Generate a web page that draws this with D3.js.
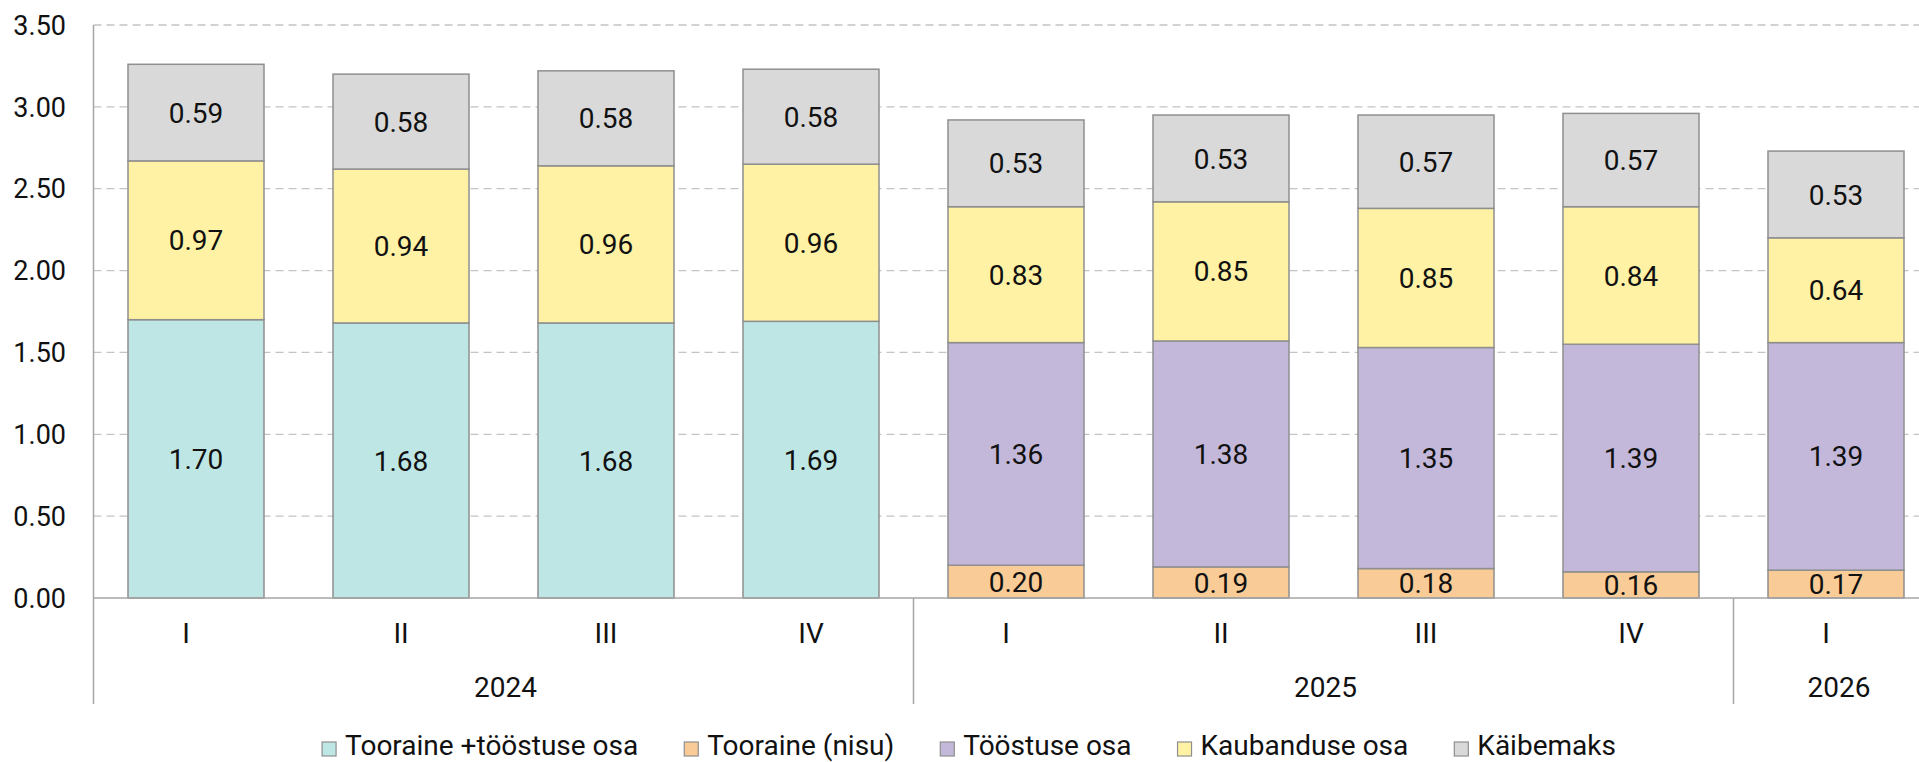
<!DOCTYPE html>
<html lang="et">
<head>
  <meta charset="UTF-8">
  <title>Hinna komponendid</title>
  <script src="https://d3js.org/d3.v7.min.js"></script>
  <style>
    body { margin: 0; background: #fff; overflow: hidden; }
    svg { display: block; font-family: Roboto, 'Noto Sans', sans-serif; }
  </style>
</head>
<body>
  <svg id="chart" width="1919" height="762"></svg>
  <script>
    const quarters = ["I", "II", "III", "IV", "I", "II", "III", "IV", "I"];
    const years = [
      { label: "2024", from: 0, to: 4 },
      { label: "2025", from: 4, to: 8 },
      { label: "2026", from: 8, to: 9 }
    ];
    const seriesNames = ["Tooraine +tööstuse osa", "Tooraine (nisu)", "Tööstuse osa", "Kaubanduse osa", "Käibemaks"];
    const toorTööstus = [1.70, 1.68, 1.68, 1.69, 0, 0, 0, 0, 0];
    const toorNisu    = [0, 0, 0, 0, 0.20, 0.19, 0.18, 0.16, 0.17];
    const tööstus     = [0, 0, 0, 0, 1.36, 1.38, 1.35, 1.39, 1.39];
    const kaubandus   = [0.97, 0.94, 0.96, 0.96, 0.83, 0.85, 0.85, 0.84, 0.64];
    const käibemaks   = [0.59, 0.58, 0.58, 0.58, 0.53, 0.53, 0.57, 0.57, 0.53];
    const yTicks = [0, 0.5, 1, 1.5, 2, 2.5, 3, 3.5];

    const colors = ["#bee6e5", "#f9cb96", "#c3b8da", "#fff2a4", "#d9d9d9"];
    const allSeries = [toorTööstus, toorNisu, tööstus, kaubandus, käibemaks];

    const rows = quarters.map((q, i) => {
      const r = { idx: i };
      seriesNames.forEach((s, k) => r[s] = allSeries[k][i]);
      return r;
    });

    const svg = d3.select("#chart");
    const left = 93.5, step = 205;
    const tickFont = 27, labelFont = 28;

    const x = d3.scaleBand()
      .domain(d3.range(quarters.length))
      .range([left, left + step * quarters.length])
      .paddingInner(0.3366)
      .paddingOuter(0.1683);

    const y = d3.scaleLinear().domain([0, 3.5]).range([598, 25]);

    // grid
    svg.append("g")
      .selectAll("line")
      .data(yTicks.filter(d => d > 0))
      .enter().append("line")
      .attr("x1", left).attr("x2", 1919)
      .attr("y1", d => y(d)).attr("y2", d => y(d))
      .attr("stroke", "#c4c4c4")
      .attr("stroke-width", 1.3)
      .attr("stroke-dasharray", "8,5");

    // y tick labels
    svg.append("g")
      .selectAll("text")
      .data(yTicks)
      .enter().append("text")
      .attr("x", 66)
      .attr("y", d => y(d))
      .attr("dy", "0.36em")
      .attr("text-anchor", "end")
      .style("font-size", tickFont + "px")
      .style("fill", "#111")
      .text(d => d.toFixed(2));

    const stack = d3.stack().keys(seriesNames);
    const stacked = stack(rows);

    const layer = svg.append("g")
      .selectAll("g")
      .data(stacked)
      .enter().append("g")
      .attr("fill", (d, i) => colors[i]);

    layer.selectAll("rect")
      .data(d => d.filter(p => p[1] - p[0] > 0))
      .enter().append("rect")
      .attr("x", d => x(d.data.idx))
      .attr("width", x.bandwidth())
      .attr("y", d => y(d[1]))
      .attr("height", d => y(d[0]) - y(d[1]))
      .attr("stroke", "#8f8f8f")
      .attr("stroke-width", 1.5);

    layer.selectAll("text")
      .data(d => d.filter(p => p[1] - p[0] > 0))
      .enter().append("text")
      .attr("x", d => x(d.data.idx) + x.bandwidth() / 2)
      .attr("y", d => (y(d[0]) + y(d[1])) / 2)
      .attr("dy", "0.36em")
      .attr("text-anchor", "middle")
      .style("font-size", labelFont + "px")
      .style("fill", "#111")
      .text(d => (d[1] - d[0]).toFixed(2));

    // axes lines
    svg.append("line")
      .attr("x1", left).attr("x2", 1919)
      .attr("y1", y(0)).attr("y2", y(0))
      .attr("stroke", "#a6a6a6").attr("stroke-width", 1.5);
    svg.append("line")
      .attr("x1", left).attr("x2", left)
      .attr("y1", y(3.5)).attr("y2", 704)
      .attr("stroke", "#a6a6a6").attr("stroke-width", 1.5);

    svg.append("g")
      .selectAll("line")
      .data(years.slice(1))
      .enter().append("line")
      .attr("x1", d => left + d.from * step).attr("x2", d => left + d.from * step)
      .attr("y1", y(0)).attr("y2", 704)
      .attr("stroke", "#a6a6a6").attr("stroke-width", 1.5);

    // quarter labels ("I" sits a bit left of centre in the original)
    svg.append("g")
      .selectAll("text")
      .data(quarters)
      .enter().append("text")
      .attr("x", (d, i) => x(i) + x.bandwidth() / 2 + (d === "I" ? -10 : 0))
      .attr("y", 633)
      .attr("dy", "0.36em")
      .attr("text-anchor", "middle")
      .style("font-size", labelFont + "px")
      .style("fill", "#111")
      .text(d => d);

    // year labels
    svg.append("g")
      .selectAll("text")
      .data(years)
      .enter().append("text")
      .attr("x", d => d.to - d.from === 1 ? x(d.from) + x.bandwidth() / 2 + 3 : left + (d.from + d.to) / 2 * step + 2)
      .attr("y", 687)
      .attr("dy", "0.36em")
      .attr("text-anchor", "middle")
      .style("font-size", labelFont + "px")
      .style("fill", "#111")
      .text(d => d.label);

    // legend
    const legend = svg.append("g");
    const items = legend.selectAll("g")
      .data(seriesNames)
      .enter().append("g");
    items.append("rect")
      .attr("width", 14).attr("height", 14)
      .attr("y", 742)
      .attr("fill", (d, i) => colors[i])
      .attr("stroke", "#8f8f8f").attr("stroke-width", 1.2);
    items.append("text")
      .attr("x", 23)
      .attr("y", 755)
      .style("font-size", labelFont + "px")
      .style("fill", "#111")
      .text(d => d);

    const widths = [];
    items.each(function () {
      widths.push(d3.select(this).select("text").node().getComputedTextLength() + 23);
    });
    const gap = 46;
    const total = d3.sum(widths) + gap * (widths.length - 1);
    let offset = 969 - total / 2;
    items.attr("transform", (d, i) => {
      const t = `translate(${offset},0)`;
      offset += widths[i] + gap;
      return t;
    });
  </script>
</body>
</html>
